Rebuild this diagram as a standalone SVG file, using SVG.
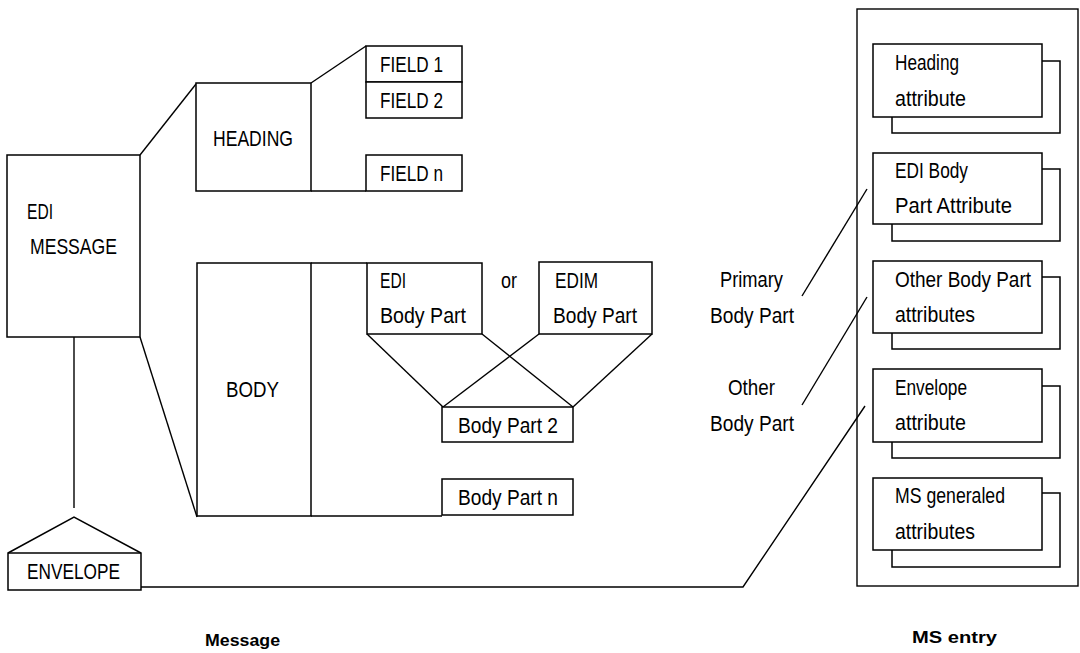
<svg xmlns="http://www.w3.org/2000/svg" width="1080" height="653" viewBox="0 0 1080 653">
<style>
.b{fill:#fff;stroke:#000;stroke-width:1.5}
.l{fill:none;stroke:#000;stroke-width:1.4}
text{font-family:"Liberation Sans",Arial,sans-serif;font-size:22px;fill:#000}
.h{font-weight:bold;font-size:16px}
</style>
<rect width="1080" height="653" fill="#fff"/>
<g id="ms-entry">
<rect class="l" x="857" y="9" width="221" height="577"/>
</g>
<g id="connectors">
<line class="l" x1="140" y1="155" x2="196" y2="84"/>
<line class="l" x1="140" y1="337" x2="197" y2="517"/>
<line class="l" x1="311" y1="83" x2="366" y2="46"/>
<line class="l" x1="74" y1="337" x2="74" y2="508"/>
<line class="l" x1="367" y1="334" x2="443" y2="407"/>
<line class="l" x1="482" y1="334" x2="573" y2="407"/>
<line class="l" x1="539" y1="334" x2="443" y2="407"/>
<line class="l" x1="652" y1="334" x2="573" y2="407"/>
<polyline class="l" points="141,587 743,587 865,406"/>
<line class="l" x1="802" y1="296" x2="867" y2="189"/>
<line class="l" x1="802" y1="405" x2="867" y2="297"/>
</g>
<g id="edi-message">
<rect class="b" x="7" y="155" width="133" height="182"/>
<text x="27" y="219" textLength="26" lengthAdjust="spacingAndGlyphs">EDI</text>
<text x="30" y="254" textLength="87" lengthAdjust="spacingAndGlyphs">MESSAGE</text>
</g>
<g id="heading">
<rect class="b" x="196" y="83" width="115" height="108"/>
<line class="l" x1="311" y1="191" x2="366" y2="191"/>
<text x="213" y="146" textLength="80" lengthAdjust="spacingAndGlyphs">HEADING</text>
</g>
<g id="field1">
<rect class="b" x="366" y="46" width="96" height="36"/>
<text x="380" y="72" textLength="63" lengthAdjust="spacingAndGlyphs">FIELD 1</text>
</g>
<g id="field2">
<rect class="b" x="366" y="82" width="96" height="36"/>
<text x="380" y="108" textLength="63" lengthAdjust="spacingAndGlyphs">FIELD 2</text>
</g>
<g id="fieldn">
<rect class="b" x="366" y="155" width="96" height="36"/>
<text x="380" y="181" textLength="63" lengthAdjust="spacingAndGlyphs">FIELD n</text>
</g>
<g id="body">
<rect class="b" x="197" y="263" width="114" height="253"/>
<polyline class="l" points="311,263 367,263"/>
<line class="l" x1="311" y1="516" x2="442" y2="516"/>
<text x="226" y="397" textLength="53" lengthAdjust="spacingAndGlyphs">BODY</text>
</g>
<g id="edi-body-part">
<rect class="b" x="367" y="263" width="115" height="71"/>
<text x="380" y="288" textLength="26" lengthAdjust="spacingAndGlyphs">EDI</text>
<text x="380" y="323" textLength="86" lengthAdjust="spacingAndGlyphs">Body Part</text>
</g>
<text id="or" x="501" y="288" textLength="16" lengthAdjust="spacingAndGlyphs">or</text>
<g id="edim-body-part">
<rect class="b" x="539" y="262" width="113" height="72"/>
<text x="555" y="288" textLength="43" lengthAdjust="spacingAndGlyphs">EDIM</text>
<text x="553" y="323" textLength="84" lengthAdjust="spacingAndGlyphs">Body Part</text>
</g>
<g id="body-part-2">
<rect class="b" x="442" y="407" width="131" height="35"/>
<text x="458" y="433" textLength="100" lengthAdjust="spacingAndGlyphs">Body Part 2</text>
</g>
<g id="body-part-n">
<rect class="b" x="442" y="479" width="131" height="36"/>
<text x="458" y="505" textLength="100" lengthAdjust="spacingAndGlyphs">Body Part n</text>
</g>
<g id="envelope">
<path class="b" d="M8,553 L74,517 L141,553 L141,590 L8,590 Z"/>
<line class="l" x1="8" y1="553" x2="141" y2="553"/>
<text x="27" y="579" textLength="93" lengthAdjust="spacingAndGlyphs">ENVELOPE</text>
</g>
<text id="message-label" class="h" x="205" y="646" textLength="75" lengthAdjust="spacingAndGlyphs">Message</text>
<g id="heading-attr">
<rect class="b" x="892" y="61" width="168" height="72"/>
<rect class="b" x="873" y="44" width="169" height="73"/>
<text x="895" y="70" textLength="64" lengthAdjust="spacingAndGlyphs">Heading</text>
<text x="895" y="106" textLength="71" lengthAdjust="spacingAndGlyphs">attribute</text>
</g>
<g id="edi-body-attr">
<rect class="b" x="892" y="169" width="168" height="72"/>
<rect class="b" x="873" y="153" width="169" height="71"/>
<text x="895" y="178" textLength="73" lengthAdjust="spacingAndGlyphs">EDI Body</text>
<text x="895" y="213" textLength="117" lengthAdjust="spacingAndGlyphs">Part Attribute</text>
</g>
<g id="other-body-attr">
<rect class="b" x="892" y="277" width="168" height="72"/>
<rect class="b" x="873" y="261" width="169" height="72"/>
<text x="895" y="287" textLength="136" lengthAdjust="spacingAndGlyphs">Other Body Part</text>
<text x="895" y="322" textLength="80" lengthAdjust="spacingAndGlyphs">attributes</text>
</g>
<g id="envelope-attr">
<rect class="b" x="892" y="386" width="168" height="72"/>
<rect class="b" x="873" y="369" width="169" height="73"/>
<text x="895" y="395" textLength="72" lengthAdjust="spacingAndGlyphs">Envelope</text>
<text x="895" y="430" textLength="71" lengthAdjust="spacingAndGlyphs">attribute</text>
</g>
<g id="ms-generated-attr">
<rect class="b" x="892" y="493" width="168" height="74"/>
<rect class="b" x="873" y="478" width="169" height="72"/>
<text x="895" y="503" textLength="110" lengthAdjust="spacingAndGlyphs">MS generaled</text>
<text x="895" y="539" textLength="80" lengthAdjust="spacingAndGlyphs">attributes</text>
</g>
<g id="primary-label">
<text x="720" y="287" textLength="63" lengthAdjust="spacingAndGlyphs">Primary</text>
<text x="710" y="323" textLength="84" lengthAdjust="spacingAndGlyphs">Body Part</text>
</g>
<g id="other-label">
<text x="728" y="395" textLength="47" lengthAdjust="spacingAndGlyphs">Other</text>
<text x="710" y="431" textLength="84" lengthAdjust="spacingAndGlyphs">Body Part</text>
</g>
<text id="ms-entry-label" class="h" x="912" y="643" textLength="85" lengthAdjust="spacingAndGlyphs">MS entry</text>
</svg>
